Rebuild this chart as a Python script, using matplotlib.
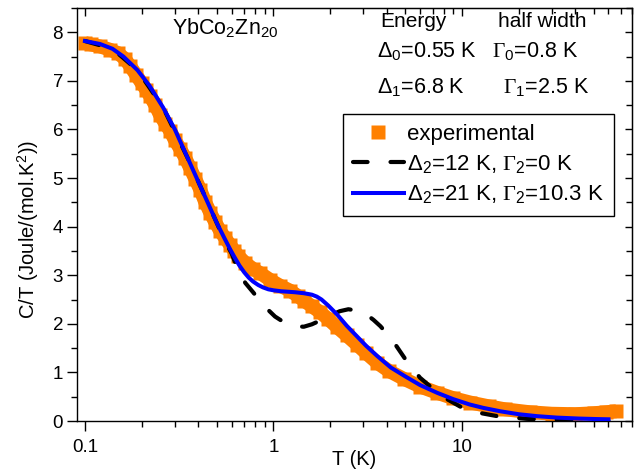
import numpy as np
import matplotlib
matplotlib.use("Agg")
import matplotlib.pyplot as plt
from matplotlib.ticker import LogLocator, NullFormatter, MultipleLocator

plt.rcParams["font.family"] = ["Liberation Sans", "DejaVu Sans"]
plt.rcParams["mathtext.fontset"] = "custom"
plt.rcParams["mathtext.rm"] = "Liberation Sans"
plt.rcParams["mathtext.it"] = "Liberation Sans:italic"
# serif face used only for the Gamma symbol (Origin uses Symbol font there)
plt.rcParams["mathtext.bf"] = "Liberation Serif"

# experimental C/T
T_exp = [0.1, 0.107, 0.12, 0.136, 0.15, 0.163, 0.174, 0.187, 0.2, 0.211, 0.222,
         0.236, 0.25, 0.267, 0.284, 0.3, 0.32, 0.34, 0.362, 0.385, 0.41, 0.435,
         0.463, 0.49, 0.52, 0.555, 0.59, 0.62, 0.65, 0.71, 0.78, 0.853, 0.964,
         1.09, 1.23, 1.35, 1.45, 1.6, 1.77, 1.95, 2.18, 2.45, 2.78, 3.1, 3.55,
         4.1, 4.91, 6.0, 7.4, 9.0, 11.1, 14, 17, 23, 30, 40, 50, 58, 66]
CT_exp = [7.78, 7.75, 7.71, 7.64, 7.57, 7.45, 7.3, 7.12, 6.95, 6.82, 6.68,
          6.5, 6.3, 6.12, 5.96, 5.78, 5.6, 5.42, 5.2, 4.98, 4.75, 4.5,
          4.28, 4.1, 3.92, 3.76, 3.62, 3.5, 3.4, 3.25, 3.13, 3.04, 2.9,
          2.78, 2.68, 2.57, 2.48, 2.36, 2.24, 2.1, 1.93, 1.76, 1.57, 1.4, 1.2,
          1.03, 0.87, 0.71, 0.58, 0.47, 0.38, 0.3, 0.24, 0.18, 0.15, 0.14, 0.16,
          0.18, 0.2]

# fit with Delta2=12 K, Gamma2=0 K
T_fit0 = [0.1, 0.14, 0.19, 0.26, 0.35, 0.45, 0.55, 0.6, 0.65, 0.71, 0.78, 0.85,
          0.93, 1.02, 1.15, 1.3, 1.45, 1.6, 1.8, 2.0, 2.25, 2.5, 2.8, 3.1, 3.4,
          3.7, 4.1, 4.5, 5.1, 6.0, 6.9, 7.5, 8.7, 10.4, 12.3, 15.4, 18, 22, 27,
          35, 45, 60]
CT_fit0 = [7.82, 7.66, 7.22, 6.45, 5.42, 4.48, 3.72, 3.45, 3.1, 2.84, 2.65, 2.47,
           2.3, 2.15, 2.02, 1.95, 1.94, 1.99, 2.08, 2.17, 2.26, 2.3, 2.27, 2.2, 2.08,
           1.95, 1.75, 1.54, 1.23, 0.89, 0.69, 0.55, 0.41, 0.24, 0.17, 0.1, 0.075,
           0.045, 0.03, 0.02, 0.015, 0.01]

# fit with Delta2=21 K, Gamma2=10.3 K
T_fit1 = [0.1, 0.12, 0.14, 0.16, 0.19, 0.22, 0.26, 0.3, 0.35, 0.4, 0.45, 0.5,
          0.55, 0.59, 0.62, 0.66, 0.7, 0.74, 0.78, 0.83, 0.88, 0.94, 1.0, 1.1,
          1.2, 1.3, 1.45, 1.6, 1.7, 1.8, 1.95, 2.18, 2.45, 2.78, 3.1, 3.55, 4.2,
          5.0, 6.0, 7.4, 9.0, 11, 13, 16, 20, 25, 32, 42, 52, 60]
CT_fit1 = [7.82, 7.76, 7.66, 7.5, 7.22, 6.9, 6.45, 6.0, 5.42, 4.92, 4.48, 4.08,
           3.76, 3.53, 3.38, 3.2, 3.06, 2.95, 2.87, 2.8, 2.75, 2.71, 2.69, 2.67,
           2.66, 2.65, 2.63, 2.6, 2.56, 2.5, 2.38, 2.19, 1.96, 1.74, 1.55, 1.34,
           1.1, 0.92, 0.74, 0.58, 0.45, 0.34, 0.27, 0.2, 0.14, 0.1, 0.07, 0.05,
           0.04, 0.035]

ORANGE = "#ff8000"

fig = plt.figure(figsize=(6.38, 4.75), dpi=100, facecolor="white")
ax = fig.add_axes([77 / 638, 54 / 475, 555 / 638, 413 / 475])

# experimental data drawn as a dense band of squares
ax.plot(T_exp, CT_exp, color=ORANGE, lw=10, solid_capstyle="butt",
        solid_joinstyle="round", zorder=2)
ax.plot(T_exp, CT_exp, "s", color=ORANGE, ms=10, mec="none", zorder=2,
        label="experimental")
ax.plot(T_fit0, CT_fit0, color="black", lw=3, dashes=(3.5, 5.5),
        dash_capstyle="round", zorder=3,
        label=r"$\Delta_2$=12 K, $\mathbf{\Gamma}_2$=0 K")
ax.plot(T_fit1, CT_fit1, color="#0000ff", lw=2.9, zorder=4,
        solid_joinstyle="round", label=r"$\Delta_2$=21 K, $\mathbf{\Gamma}_2$=10.3 K")

ax.set_xscale("log")
ax.set_xlim(0.0907, 80)
ax.set_ylim(0, 8.5)
ax.set_xticks([0.1, 1, 10])
ax.set_xticklabels(["0.1", "1", "10"])
ax.xaxis.set_minor_locator(LogLocator(base=10, subs=np.arange(2, 10)))
ax.xaxis.set_minor_formatter(NullFormatter())
ax.yaxis.set_major_locator(MultipleLocator(1))
ax.yaxis.set_minor_locator(MultipleLocator(0.5))

for s in ax.spines.values():
    s.set_linewidth(1.0)
ax.tick_params(which="both", direction="out", labelsize=13.5, width=1.0,
               top=False, right=False)
ax.tick_params(which="major", length=7)
ax.tick_params(which="minor", length=4)
ax.tick_params(axis="x", pad=6)
ax.tick_params(axis="y", pad=3)

# mirrored axes with inward ticks
top = ax.secondary_xaxis("top")
top.set_xticks([0.1, 1, 10])
top.xaxis.set_minor_locator(LogLocator(base=10, subs=np.arange(2, 10)))
top.tick_params(which="both", direction="in", labeltop=False, width=1.0)
top.tick_params(which="major", length=6)
top.tick_params(which="minor", length=4.5)
right = ax.secondary_yaxis("right")
right.yaxis.set_major_locator(MultipleLocator(1))
right.yaxis.set_minor_locator(MultipleLocator(0.5))
right.tick_params(which="both", direction="in", labelright=False, width=1.0)
right.tick_params(which="major", length=5)
right.tick_params(which="minor", length=4.5)

ax.set_xlabel("T (K)", fontsize=14.5)
ax.set_ylabel("C/T (Joule/(mol.K$^2$))", fontsize=14.5)
ax.xaxis.set_label_coords(0.5, -0.07)
ax.yaxis.set_label_coords(-0.065, 0.465)

ax.text(0.171, 0.935, r"YbCo$_2$Zn$_{20}$", transform=ax.transAxes,
        fontsize=15.5, va="baseline")
ax.text(0.546, 0.955, "Energy", transform=ax.transAxes, fontsize=15, va="baseline")
ax.text(0.759, 0.955, "half width", transform=ax.transAxes, fontsize=15,
        va="baseline")
ax.text(0.541, 0.880, r"$\Delta_0$=0.55 K", transform=ax.transAxes, fontsize=15.5,
        va="baseline")
ax.text(0.748, 0.880, r"$\mathbf{\Gamma}_0$=0.8 K", transform=ax.transAxes,
        fontsize=15.5, va="baseline")
ax.text(0.541, 0.793, r"$\Delta_1$=6.8 K", transform=ax.transAxes, fontsize=15.5,
        va="baseline")
ax.text(0.768, 0.793, r"$\mathbf{\Gamma}_1$=2.5 K", transform=ax.transAxes,
        fontsize=15.5, va="baseline")

leg = ax.legend(loc="upper left", bbox_to_anchor=(0.479, 0.743), fontsize=16,
                frameon=True, fancybox=False, edgecolor="black", framealpha=1,
                handlelength=2.3, handletextpad=0.15, labelspacing=0.35,
                borderpad=0.45, borderaxespad=0)
leg.get_frame().set_linewidth(1.0)

fig.savefig("out.png", dpi=100, facecolor="white")
